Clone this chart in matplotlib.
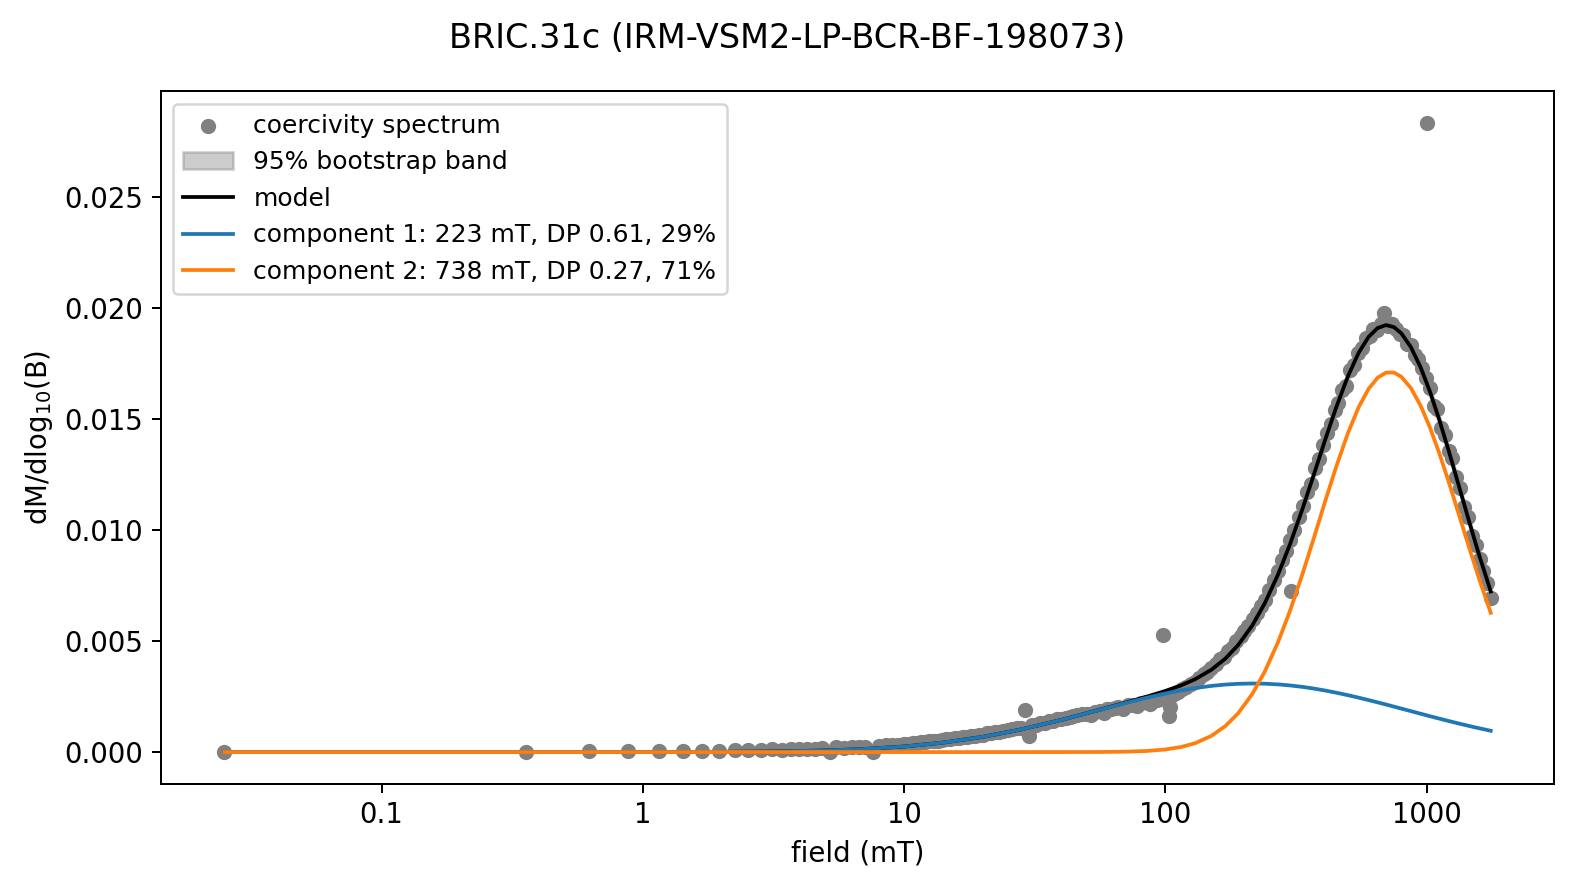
import matplotlib
matplotlib.use('Agg')
import matplotlib.pyplot as plt
from matplotlib.ticker import FuncFormatter, NullLocator

title = "BRIC.31c (IRM-VSM2-LP-BCR-BF-198073)"

# measured coercivity spectrum (field in mT, dM/dlog10(B))
field = [0.025, 0.356, 0.623, 0.88, 1.151, 1.42, 1.69, 1.96, 2.25, 2.53,
         2.84, 3.12, 3.40, 3.68, 3.95, 4.25, 4.55, 4.85, 5.2, 5.5,
         5.9, 6.3, 6.7, 7.1, 7.6, 8.0, 8.5, 9.0, 9.5, 10.0,
         10.4, 10.8, 11.2, 11.6, 12, 12.5, 13, 13.5, 14, 14.5,
         15, 15.6, 16.2, 16.8, 17.4, 18, 18.7, 19.4, 20, 20.7,
         21.5, 22.3, 23, 24, 25, 26, 27, 28, 29, 30,
         31, 32, 33, 34.5, 36, 37, 38.5, 40, 41.5, 43,
         44.5, 46, 48, 50, 52, 54, 56, 58, 60, 62,
         64, 66, 69, 72, 75, 78, 81, 84, 87, 90,
         93, 96, 98, 100, 103, 104, 106, 108, 112, 116,
         120, 125, 130, 135, 140, 145, 150, 156, 162, 168,
         174, 180, 187, 194, 200, 208, 216, 224, 232, 240,
         250, 260, 270, 280, 290, 300, 304, 312, 324, 336,
         348, 360, 373, 386, 400, 415, 430, 445, 460, 476,
         492, 510, 528, 546, 565, 585, 605, 625, 645, 667,
         686, 700, 713, 737, 762, 788, 815, 843, 871, 900,
         930, 962, 995, 1000, 1030, 1065, 1100, 1137, 1175, 1215,
         1255, 1300, 1345, 1390, 1440, 1490, 1540, 1595, 1650, 1705,
         1760]
spectrum = [0.0, 0.00002, 0.00003, 0.00003, 0.00005, 0.00005, 0.00007, 0.00007, 0.00008, 0.0001,
            0.0001, 0.00012, 0.00011, 0.00013, 0.00014, 0.00013, 0.00016, 0.00018, 0.00001, 0.00021,
            0.00019, 0.00023, 0.00025, 0.00022, 0.00001, 0.00028, 0.00031, 0.0003, 0.00034, 0.00036,
            0.00037, 0.00042, 0.0004, 0.00045, 0.00046, 0.00048, 0.00052, 0.0005, 0.00056, 0.00058,
            0.00057, 0.00063, 0.00062, 0.00068, 0.0007, 0.00072, 0.00074, 0.00079, 0.00078, 0.00084,
            0.00086, 0.00091, 0.0009, 0.00097, 0.00099, 0.00104, 0.00108, 0.0011, 0.0019, 0.00074,
            0.00122, 0.00124, 0.0013, 0.00133, 0.00139, 0.00141, 0.00147, 0.0015, 0.00155, 0.00157,
            0.00163, 0.00165, 0.0017, 0.00172, 0.00168, 0.00181, 0.00184, 0.00176, 0.00193, 0.00194,
            0.00198, 0.00203, 0.00196, 0.00212, 0.00214, 0.00208, 0.00222, 0.00225, 0.00218, 0.00232,
            0.00236, 0.0024, 0.00527, 0.00245, 0.00162, 0.00205, 0.00258, 0.00262, 0.00272, 0.00285,
            0.00292, 0.00306, 0.00318, 0.00335, 0.0035, 0.0036, 0.0038, 0.00395, 0.00418, 0.0043,
            0.00455, 0.0047, 0.005, 0.00522, 0.00545, 0.0057, 0.006, 0.00625, 0.0066, 0.00685,
            0.0073, 0.00775, 0.00815, 0.00865, 0.00905, 0.00955, 0.00727, 0.01, 0.0106, 0.0111,
            0.0117, 0.0121, 0.0128, 0.0132, 0.01385, 0.0144, 0.0148, 0.0154, 0.01575, 0.0163,
            0.0165, 0.0172, 0.01745, 0.018, 0.0182, 0.01865, 0.01875, 0.01905, 0.019, 0.0193,
            0.0198, 0.01935, 0.0192, 0.0193, 0.01905, 0.01885, 0.0188, 0.0184, 0.01835, 0.0179,
            0.0177, 0.0173, 0.01685, 0.02836, 0.0164, 0.0156, 0.01545, 0.0146, 0.0143, 0.01355,
            0.01325, 0.0124, 0.0119, 0.01105, 0.0106, 0.00975, 0.00935, 0.0087, 0.00815, 0.0076,
            0.00695]

# fitted curves
field_fit = [0.025, 0.1, 0.3, 1, 2, 3, 5, 7, 10, 14,
             20, 28, 40, 55, 70, 85, 100, 115, 130, 150,
             170, 190, 215, 240, 270, 300, 335, 370, 410, 450,
             500, 550, 600, 650, 700, 750, 800, 870, 950, 1030,
             1120, 1220, 1330, 1450, 1580, 1760]
model = [0, 0, 0, 0.0000014, 0.000009, 0.0000238, 0.0000709, 0.0001349, 0.0002502, 0.0004209,
         0.000684, 0.0010166, 0.0014486, 0.0018806, 0.0022186, 0.002499, 0.002754, 0.003008, 0.003282, 0.003709,
         0.00422, 0.004824, 0.005701, 0.006697, 0.008001, 0.009364, 0.010963, 0.012498, 0.014108, 0.015509,
         0.016942, 0.018004, 0.018715, 0.019114, 0.019245, 0.019152, 0.018876, 0.01826, 0.017325, 0.016245,
         0.014954, 0.01351, 0.011984, 0.010453, 0.008971, 0.007237]
comp1 = [0, 0, 0, 0.0000014, 0.000009, 0.0000238, 0.0000709, 0.0001349, 0.0002502, 0.0004209,
         0.000684, 0.0010166, 0.0014486, 0.001877, 0.0022026, 0.00245, 0.002638, 0.002779, 0.002884, 0.002982,
         0.003043, 0.003076, 0.00309, 0.003081, 0.00305, 0.003003, 0.002937, 0.002862, 0.002771, 0.002679,
         0.002563, 0.002451, 0.002342, 0.002239, 0.002141, 0.002048, 0.00196, 0.001846, 0.001726, 0.001616,
         0.001505, 0.001394, 0.001285, 0.00118, 0.001079, 0.00096]
comp2 = [0, 0, 0, 0, 0, 0, 0, 0, 0, 0,
         0, 0, 0, 0.0000036, 0.000016, 0.000049, 0.000116, 0.000229, 0.000398, 0.000727,
         0.001177, 0.001748, 0.002611, 0.003616, 0.004951, 0.006361, 0.008026, 0.009636, 0.011337, 0.01283,
         0.014379, 0.015553, 0.016373, 0.016875, 0.017104, 0.017104, 0.016916, 0.016414, 0.015599, 0.014629,
         0.013449, 0.012116, 0.010699, 0.009273, 0.007892, 0.006277]

# 95% bootstrap band of the model (from 100 mT on)
band_field = field_fit[16:]
band_lo = [0.00271, 0.00296, 0.00323, 0.00365, 0.00415, 0.00475, 0.00562, 0.0066, 0.00789, 0.00924,
           0.01082, 0.01234, 0.01393, 0.01532, 0.01674, 0.01779, 0.0185, 0.01889, 0.01902, 0.01893,
           0.01865, 0.01804, 0.01711, 0.01604, 0.01476, 0.01333, 0.01182, 0.0103, 0.00883, 0.00711]
band_hi = [0.0028, 0.00306, 0.00334, 0.00377, 0.00429, 0.0049, 0.00579, 0.0068, 0.00812, 0.00949,
           0.01111, 0.01266, 0.01429, 0.0157, 0.01715, 0.01822, 0.01894, 0.01934, 0.01947, 0.01938,
           0.0191, 0.01848, 0.01754, 0.01645, 0.01515, 0.01369, 0.01215, 0.01061, 0.00911, 0.00736]

labels = ['coercivity spectrum', '95% bootstrap band', 'model',
          'component 1: 223 mT, DP 0.61, 29%',
          'component 2: 738 mT, DP 0.27, 71%']

fig, ax = plt.subplots(figsize=(8.75, 4.956), dpi=180)
fig.subplots_adjust(left=0.1022, right=0.9867, bottom=0.1216, top=0.8975)

ax.scatter(field, spectrum, s=26, color='gray', label=labels[0])
ax.fill_between(band_field, band_lo, band_hi, color='gray', alpha=0.4, label=labels[1])
ax.plot(field_fit, model, color='black', lw=1.5, label=labels[2])
ax.plot(field_fit, comp1, color='tab:blue', lw=1.5, label=labels[3])
ax.plot(field_fit, comp2, color='tab:orange', lw=1.5, label=labels[4])

ax.set_xscale('log')
ax.xaxis.set_major_formatter(FuncFormatter(lambda v, p: '{:g}'.format(v)))
ax.xaxis.set_minor_locator(NullLocator())
ax.tick_params(axis='both', labelsize=11)
ax.set_xlabel('field (mT)', fontsize=11)
ax.set_ylabel('dM/dlog$_{10}$(B)', fontsize=11)
ax.legend(loc='upper left', fontsize=10)
fig.suptitle(title, fontsize=13.4, y=0.975)

fig.savefig('out.png', dpi=180)
